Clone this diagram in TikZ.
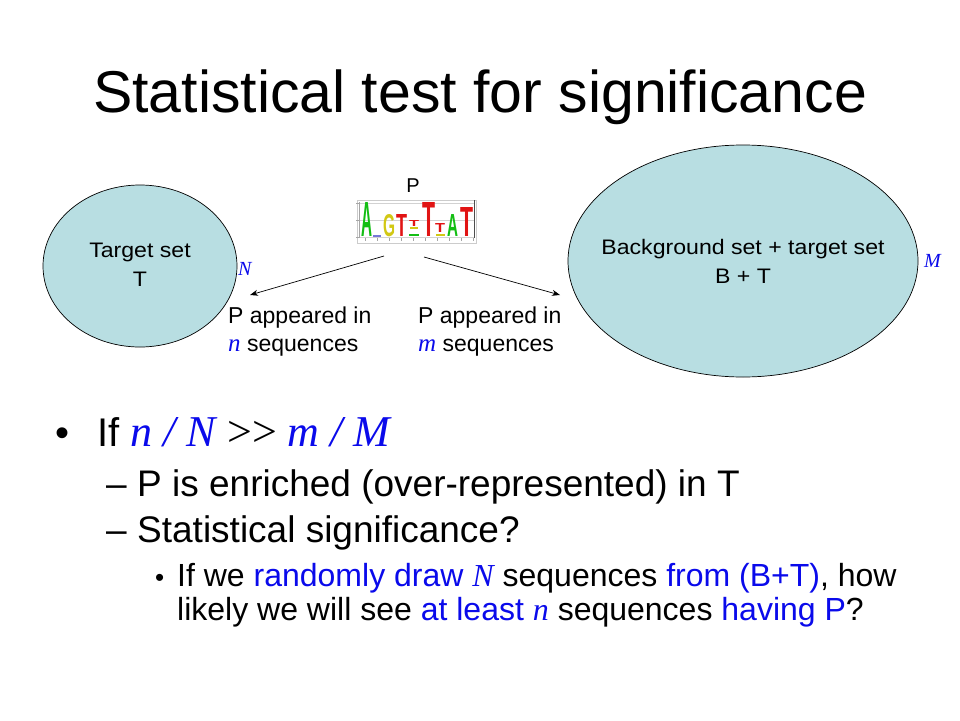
\documentclass[tikz,border=0pt]{standalone}
\usepackage{graphicx}
\usepackage{fontspec}
\setmainfont{Liberation Sans}
\newfontfamily\tms{Liberation Serif}
\newfontfamily\widesans[FakeStretch=1.1]{Liberation Sans}
\usetikzlibrary{arrows.meta,shapes.geometric}
\definecolor{setfill}{RGB}{184,222,226}
\definecolor{hl}{RGB}{10,10,235}
\definecolor{logogreen}{RGB}{20,190,20}
\definecolor{logoyellow}{RGB}{210,200,20}
\definecolor{logored}{RGB}{225,20,20}
\definecolor{logoblue}{RGB}{60,60,200}
\newcommand{\vi}[1]{{\tms\itshape #1}}
\newcommand{\fsz}[2]{\fontsize{#1}{#2}\selectfont}
\newcommand{\logoletter}[7]{\node[inner sep=0pt, anchor=south west, text=#6] (#1) at (#2,#3) {\resizebox{#4pt}{#5pt}{\bfseries #7}};}
\begin{document}
\begin{tikzpicture}[x=1pt,y=-1pt,
  setnode/.style={draw=black, line width=0.7pt, fill=setfill, ellipse, inner sep=0pt},
  settext/.style={inner sep=0pt, align=center, font=\widesans\fsz{21}{29}},
  lbl/.style={inner sep=0pt, anchor=base west},
  arr/.style={-{Stealth[length=8pt,width=6pt]}, line width=0.7pt},
  small/.style={lbl, font=\fsz{23}{28}},
  varlbl/.style={inner sep=0pt, anchor=base west, text=hl, font=\tms\itshape\fsz{20}{24}},
  grid/.style={draw=gray!35, line width=0.4pt}]
\useasboundingbox[fill=white] (0,0) rectangle (960,720);

% title
\node[inner sep=0pt, anchor=base, font=\fsz{59}{70}] (title) at (480,112) {Statistical test for significance};

% sets
\node[setnode, minimum width=194pt, minimum height=162pt] (tset) at (140,266) {};
\node[settext] (ttext) at (140,265) {Target set\\T};
\node[setnode, minimum width=350pt, minimum height=232pt] (bset) at (743,261) {};
\node[settext] (btext) at (743,261) {Background set + target set\\B + T};
\node[varlbl] (Nlab) at (238,275) {N};
\node[varlbl] (Mlab) at (924,267) {M};

% logo
\node[inner sep=0pt, anchor=base, font=\fsz{20}{24}] (plab) at (413,192) {P};
\node[draw=gray!40, line width=0.4pt, inner sep=0pt, minimum width=119pt, minimum height=43pt, anchor=north west] (logo) at (357,200) {};
\draw[grid] (359,203) -- (474,203);
\draw[grid] (359,220) -- (474,220);
\draw[grid] (359,237) -- (474,237);
\draw[gray!70, line width=0.6pt] (359,202) -- (359,238);
\draw[gray!60!black, line width=1pt] (474,200) -- (474,238);
\foreach \yy in {203,220,237} \draw[gray!70, line width=0.4pt] (356,\yy) -- (359,\yy);
\foreach \xx in {365,377,389,401,413,425,437,449,461,473} \draw[gray!70, line width=0.4pt] (\xx,238) -- (\xx,241);
\fill[logoblue!70] (373,235) rectangle (381,237);
\fill[logogreen] (409,234) rectangle (419,236);
\fill[logoyellow] (436,234) rectangle (445,236);
\fill[logoyellow] (410,227) rectangle (418,229);
\logoletter{lA1}{361}{237}{11}{34}{logogreen}{A}
\logoletter{lG1}{383}{237}{12}{22}{logoyellow}{G}
\logoletter{lT1}{396}{237}{11}{22}{logored}{T}
\logoletter{lt2}{409}{227}{10}{6}{logored}{T}
\logoletter{lT3}{422}{237}{13}{34}{logored}{T}
\logoletter{lt4}{435}{233}{10}{9}{logored}{T}
\logoletter{lA5}{447}{237}{11}{22}{logogreen}{A}
\logoletter{lT6}{460}{237}{13}{29}{logored}{T}

% arrows
\coordinate (s1) at (384,256);
\coordinate (e1) at (250,295);
\coordinate (s2) at (424,257);
\coordinate (e2) at (560,295);
\draw[arr] (s1) -- (e1);
\draw[arr] (s2) -- (e2);

\node[small] (ap1) at (228,323) {P appeared in};
\node[small] (ap2) at (228,351) {\textcolor{hl}{\vi{\fsz{25}{28}n}} sequences};
\node[small] (ap3) at (418,323) {P appeared in};
\node[small] (ap4) at (418,351) {\textcolor{hl}{\vi{\fsz{25}{28}m}} sequences};

% bullets
\node[lbl, font=\fsz{40}{48}] (b1) at (55,446) {\textbullet};
\node[lbl, font=\fsz{40}{48}] (l1) at (97,446) {If \textcolor{hl}{\vi{\fsz{44}{48}n / N}} {\tms\fsz{44}{48}>{}>} \textcolor{hl}{\vi{\fsz{44}{48}m / M}}};
\node[lbl, font=\fsz{37}{44}] (d1) at (106,496) {--};
\node[lbl, font=\fsz{37}{44}] (l2) at (137,496) {P is enriched (over-represented) in T};
\node[lbl, font=\fsz{37}{44}] (d2) at (106,542) {--};
\node[lbl, font=\fsz{37}{44}] (l3) at (137,542) {Statistical significance?};
\node[lbl, font=\fsz{26}{30}] (b2) at (155,586) {\textbullet};
\node[lbl, font=\fsz{32}{38}] (l4) at (177,586) {If we \textcolor{hl}{randomly draw} \textcolor{hl}{\vi{N}} sequences \textcolor{hl}{from (B+T)}, how};
\node[lbl, font=\fsz{32}{38}] (l5) at (177,620) {likely we will see \textcolor{hl}{at least} \textcolor{hl}{\vi{n}} sequences \textcolor{hl}{having P}?};
\end{tikzpicture}
\end{document}
